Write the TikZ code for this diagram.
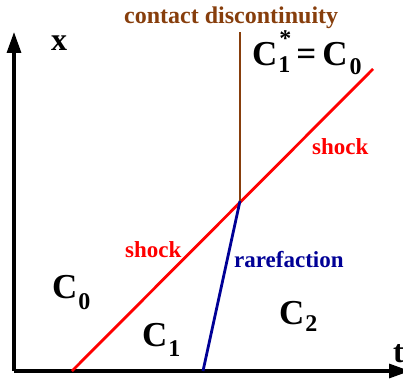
\documentclass[tikz,border=0pt]{standalone}
\usepackage{fontspec}
\setmainfont{Liberation Serif}
\usetikzlibrary{arrows.meta}
\definecolor{cdbrown}{RGB}{135,62,12}
\definecolor{rfblue}{RGB}{0,0,150}
\tikzset{
  lbl/.style={anchor=base west,inner sep=0pt,font=\fontsize{23}{23}\selectfont\bfseries},
  big/.style={anchor=base west,inner sep=0pt,font=\fontsize{35}{35}\selectfont\bfseries},
  axis/.style={line width=3.2pt,-{Triangle[length=21pt,width=14pt]}}
}
\newcommand{\subnum}[2]{\raisebox{-#2pt}{\fontsize{24}{24}\selectfont #1}}

\begin{document}
\begin{tikzpicture}[x=1pt,y=-1pt]
\useasboundingbox (0,0) rectangle (403,379);
\coordinate (O) at (14,371);
\coordinate (xend) at (14,32);
\coordinate (tend) at (410,371);
\coordinate (S0) at (72,371);
\coordinate (S1) at (373,69);
\coordinate (P) at (240,201);
\coordinate (Ctop) at (240,32);
\coordinate (R0) at (203,371);
% axes
\draw[axis] (O)--(xend);
\draw[axis] (O)--(tend);
\node[big,font=\fontsize{32}{32}\selectfont\bfseries] (xlab) at (51,51) {x};
\node[big,font=\fontsize{32}{32}\selectfont\bfseries] (tlab) at (393,362) {t};
% waves
\draw[red,line width=2.8pt] (S0)--(S1);
\draw[cdbrown,line width=2.8pt] (P)--(Ctop);
\draw[rfblue,line width=2.8pt] (P)--(R0);
\node[lbl,cdbrown,font=\fontsize{24}{24}\selectfont\bfseries] (cd) at (124,24) {contact discontinuity};
\node[lbl,red] (shockA) at (125,257) {shock};
\node[lbl,red] (shockB) at (312,154) {shock};
\node[lbl,rfblue] (rf) at (234,267) {rarefaction};
% states
\node[big] (c0) at (52,298) {C\hspace{1pt}\subnum{0}{11}};
\node[big] (c1) at (142,346) {C\hspace{1pt}\subnum{1}{10}};
\node[big] (c2) at (279,324) {C\hspace{1pt}\subnum{2}{7}};
\node[big] (cstar) at (252,66) {C\hspace{1pt}\rlap{\hspace{1pt}\raisebox{19pt}{\fontsize{24}{24}\selectfont *}}\subnum{1}{7}\hspace{6pt}=\hspace{6pt}C\hspace{2pt}\subnum{0}{9}};
\end{tikzpicture}
\end{document}
